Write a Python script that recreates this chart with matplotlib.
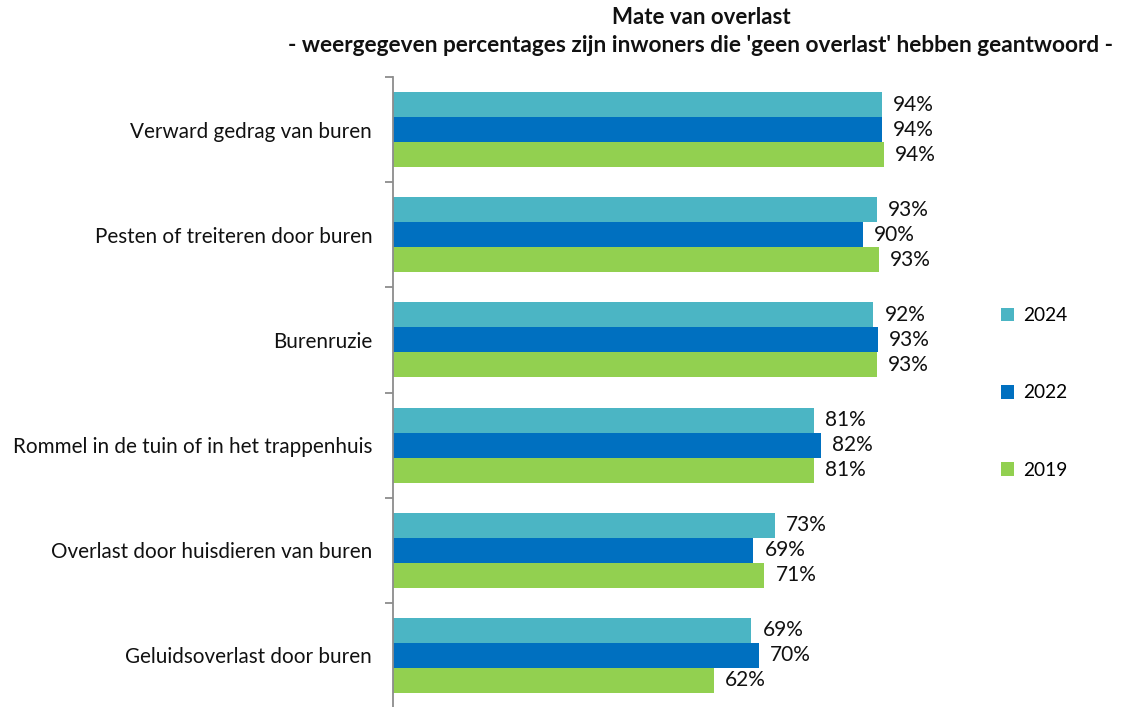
import matplotlib.pyplot as plt
import numpy as np
from matplotlib.patches import Patch

categories = [
    "Verward gedrag van buren",
    "Pesten of treiteren door buren",
    "Burenruzie",
    "Rommel in de tuin of in het trappenhuis",
    "Overlast door huisdieren van buren",
    "Geluidsoverlast door buren",
]
years = ["2024", "2022", "2019"]
v2024 = [94.0, 93.0, 92.4, 80.9, 73.4, 68.9]
v2022 = [94.0, 90.4, 93.2, 82.3, 69.3, 70.4]
v2019 = [94.4, 93.4, 93.0, 80.9, 71.4, 61.7]
colors = ["#4BB5C4", "#0070C0", "#92D050"]

plt.rcParams['font.family'] = ['Lato', 'DejaVu Sans']

fig = plt.figure(figsize=(11.24, 7.07), dpi=100)
ax = fig.add_axes([393/1124, -1/707, (913-393)/1124, (708-77)/707])

n = len(categories)
bh = 0.238
y = np.arange(n)
series = [v2024, v2022, v2019]
for i, (vals, c, yr) in enumerate(zip(series, colors, years)):
    pos = y + (i - 1) * bh
    bars = ax.barh(pos, vals, height=bh, color=c, label=yr, zorder=2)
    for b, v in zip(bars, vals):
        ax.annotate(f"{v:.0f}%", (b.get_width(), b.get_y() + b.get_height() / 2),
                    xytext=(8, 0), textcoords="offset points", va="center", ha="left",
                    fontsize=15, color="#111111", annotation_clip=False)

ax.set_xlim(0, 100)
ax.set_ylim(n - 0.5, -0.5)
ax.set_yticks(y)
ax.set_yticklabels(categories, fontsize=14.9, color="#111111")
ax.set_yticks(np.arange(n + 1) - 0.5, minor=True)
ax.tick_params(axis='y', which='major', length=0, pad=15)
ax.tick_params(axis='y', which='minor', length=6, color="#8C8C8C", width=1.3)
ax.set_xticks([])
for s in ["top", "right", "bottom"]:
    ax.spines[s].set_visible(False)
ax.spines["left"].set_color("#8C8C8C")
ax.spines["left"].set_linewidth(1.3)

handles = [Patch(facecolor=c, label=yr) for c, yr in zip(colors, years)]
fig.legend(handles=handles, loc="center left", bbox_to_anchor=(993/1124, 1 - 393/707),
           frameon=False, fontsize=13.8, handlelength=0.7, handleheight=0.7,
           handletextpad=0.45, labelspacing=3.15, borderaxespad=0)

fig.text(701/1124, 1 - 17/707, "Mate van overlast", ha="center", va="center",
         fontsize=16, fontweight="bold", color="#111111")
fig.text(701/1124, 1 - 46/707,
         "- weergegeven percentages zijn inwoners die 'geen overlast' hebben geantwoord -",
         ha="center", va="center", fontsize=16.3, fontweight="bold", color="#111111")

fig.savefig("out.png", dpi=100)
